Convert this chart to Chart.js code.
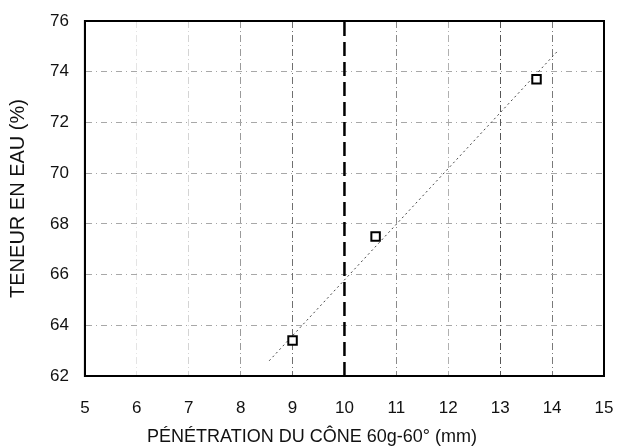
<!DOCTYPE html>
<html><head><meta charset="utf-8">
<script src="https://cdn.jsdelivr.net/npm/chart.js@4"></script>
<style>html,body{margin:0;padding:0;background:#fff}#w{width:617px;height:448px}</style>
</head><body><div id="w"><canvas id="c"></canvas></div>
<script>
const penetration = [9.0, 10.6, 13.7];
const waterContent = [63.4, 67.5, 73.7];
const trendX = [8.55, 14.1];
const trendY = [62.6, 74.8];
const limitX = [10, 10];
const limitY = [62, 76];
const xTicks = [5,6,7,8,9,10,11,12,13,14,15];
const yTicks = [62,64,66,68,70,72,74,76];

const xGridShade = {6:'#e4e4e4', 7:'#d4d4d4', 8:'#9a9a9a', 9:'#707070', 10:'rgba(0,0,0,0)', 11:'#8a8a8a', 12:'#b0b0b0', 13:'#555', 14:'#7a7a7a'};

const frame = {
  id: 'frame',
  afterDatasetsDraw(chart) {
    const {ctx, chartArea: a} = chart;
    ctx.save();
    ctx.strokeStyle = '#000';
    ctx.lineWidth = 2;
    ctx.setLineDash([]);
    ctx.strokeRect(a.left, a.top, a.right - a.left, a.bottom - a.top);
    ctx.restore();
  }
};

const tickFont = {family: "'Liberation Sans', Arial, sans-serif", size: 17};
const xTitleFont = {family: "'Liberation Sans', Arial, sans-serif", size: 18};
const yTitleFont = {family: "'Liberation Sans', Arial, sans-serif", size: 20};
new Chart(document.getElementById('c'), {
  type: 'scatter',
  data: {
    datasets: [
      {data: trendX.map((x,i)=>({x, y: trendY[i]})), showLine: true, borderColor: '#444', borderWidth: 1, borderDash: [2,3], pointRadius: 0, order: 3},
      {data: limitX.map((x,i)=>({x, y: limitY[i]})), showLine: true, borderColor: '#000', borderWidth: 2.5, borderDash: [14,6], pointRadius: 0, order: 2},
      {data: penetration.map((x,i)=>({x, y: waterContent[i]})), pointStyle: 'rect', pointRadius: 6, borderColor: '#000', borderWidth: 2, backgroundColor: '#fff', order: 1}
    ]
  },
  options: {
    responsive: true, maintainAspectRatio: false, animation: false,
    layout: {padding: {left: 6, right: 0, top: 0, bottom: 0}},
    plugins: {legend: {display: false}, tooltip: {enabled: false}},
    scales: {
      x: {
        type: 'linear', min: 5, max: 15,
        afterBuildTicks: s => { s.ticks = xTicks.map(v => ({value: v})); },
        afterFit: s => { s.paddingRight = 13; s.height = 72; },
        grid: {color: c => xGridShade[c.tick && c.tick.value] || 'rgba(0,0,0,0)', lineWidth: 1, drawTicks: false},
        border: {display: true, color: '#000', width: 2, dash: [7,3,1,3]},
        ticks: {font: tickFont, color: '#111', padding: 22, maxRotation: 0},
        title: {display: true, text: 'PÉNÉTRATION DU CÔNE 60g-60° (mm)             ', font: xTitleFont, color: '#111', padding: {top: 0, bottom: 0}}
      },
      y: {
        type: 'linear', min: 62, max: 76,
        afterBuildTicks: s => { s.ticks = yTicks.map(v => ({value: v})); },
        afterFit: s => { s.paddingTop = 21; },
        grid: {color: c => (c.tick && (c.tick.value === 62 || c.tick.value === 76)) ? 'rgba(0,0,0,0)' : '#a8a8a8', lineWidth: 1, drawTicks: false},
        border: {display: true, color: '#000', width: 2, dash: [6,4,1,4]},
        ticks: {font: tickFont, color: '#111', padding: 16},
        title: {display: true, text: 'TENEUR EN EAU (%)', font: yTitleFont, color: '#111', padding: {top: 0, bottom: 4}}
      }
    }
  },
  plugins: [frame]
});
</script></body></html>
